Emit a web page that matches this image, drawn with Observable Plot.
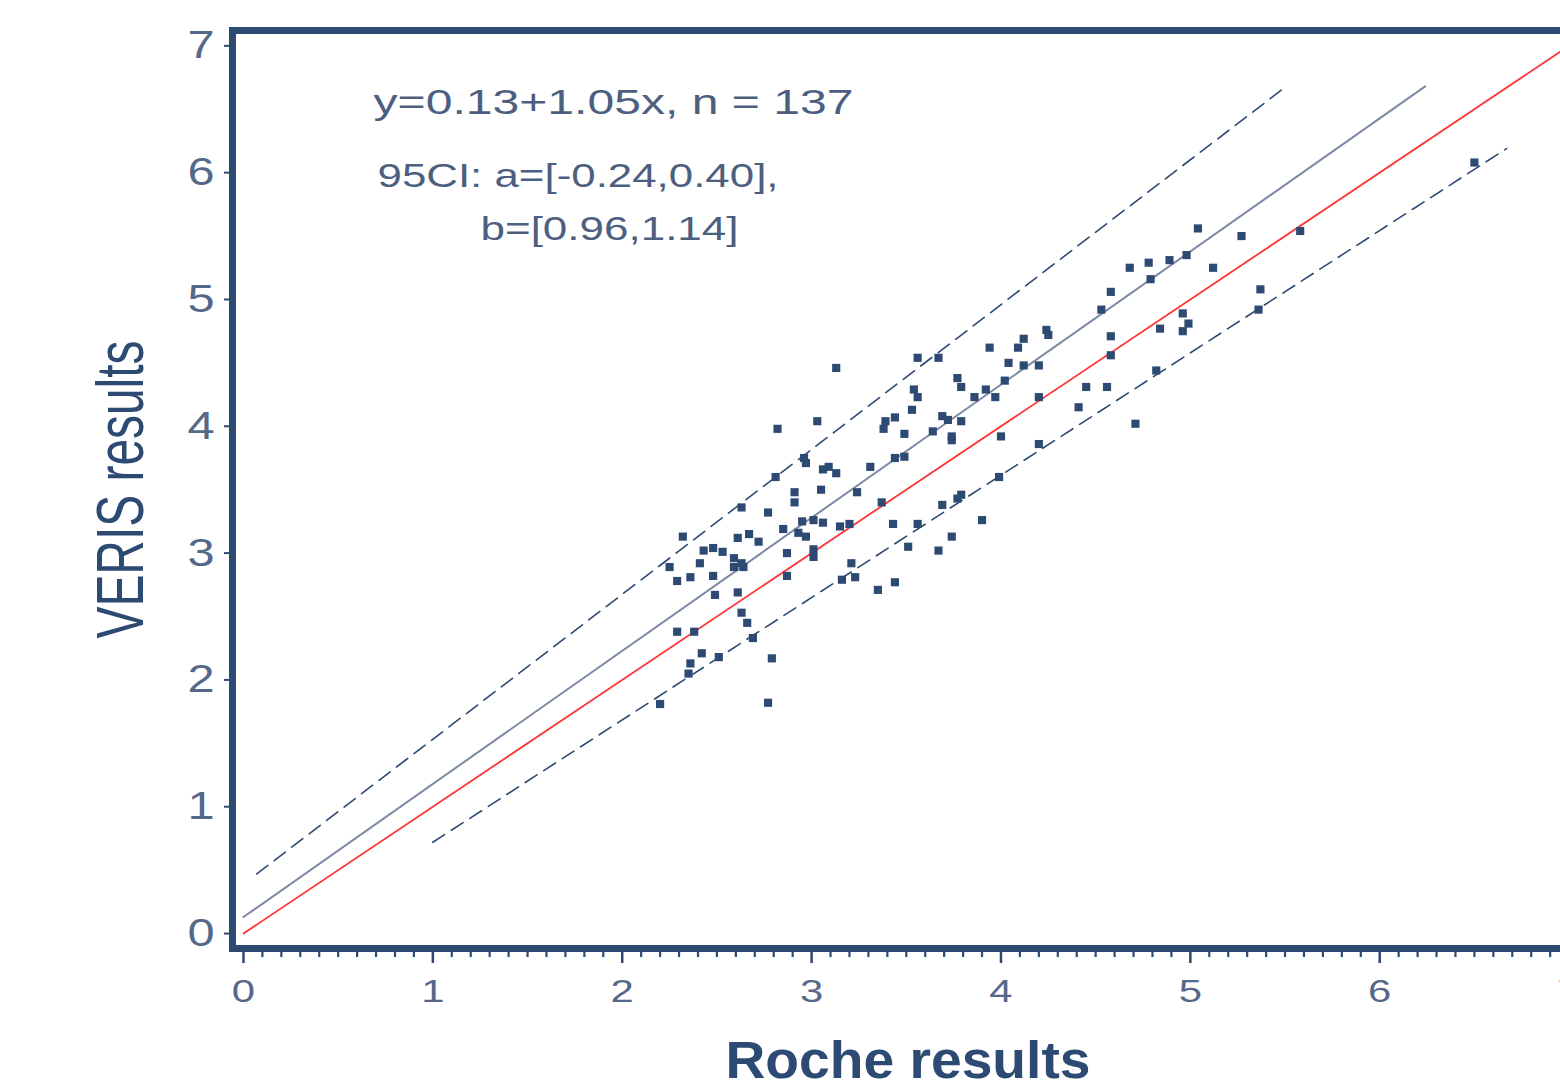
<!DOCTYPE html>
<html><head><meta charset="utf-8">
<script src="https://cdn.jsdelivr.net/npm/d3@7"></script>
<script src="https://cdn.jsdelivr.net/npm/@observablehq/plot@0.6"></script>
<style>
html,body{margin:0;padding:0;background:#fff;overflow:hidden;width:1560px;height:1087px;}
#chart svg{max-width:none !important;display:block;}
</style>
</head><body><div id="chart"></div>
<script>
// ---- data ----
const rocheX = [2.20,2.77,2.79,2.35,2.36,2.42,2.51,2.29,2.38,2.69,2.66,2.63,2.61,2.49,2.25,2.29,2.36,2.32,2.41,2.48,
  2.43,2.48,2.53,2.59,2.63,2.59,2.64,2.61,2.63,2.67,2.72,2.77,2.81,2.82,2.87,2.87,2.85,2.91,2.91,2.93,
  2.95,2.97,2.96,2.97,3.01,3.01,3.01,3.03,3.05,3.06,3.09,3.13,3.13,3.06,3.15,3.20,3.16,3.21,3.23,3.24,
  3.31,3.35,3.37,3.38,3.39,3.44,3.43,3.44,3.44,3.49,3.49,3.51,3.53,3.54,3.56,3.56,3.56,3.64,3.67,3.67,
  3.69,3.69,3.72,3.74,3.74,3.74,3.77,3.77,3.79,3.79,3.79,3.86,3.90,3.92,3.94,3.97,3.99,4.00,4.02,4.04,
  4.09,4.12,4.12,4.20,4.20,4.20,4.25,4.24,4.41,4.45,4.53,4.56,4.58,4.58,4.58,4.68,4.71,4.78,4.79,4.82,
  4.84,4.89,4.96,4.96,4.99,4.98,5.04,5.12,5.27,5.36,5.37,5.58,6.50];
const verisY = [1.81,1.82,2.17,2.05,2.13,2.21,2.18,2.38,2.38,2.33,2.45,2.53,2.69,2.67,2.89,2.78,2.81,3.13,2.92,2.82,
  3.02,3.04,3.01,2.96,2.92,2.89,2.89,3.12,3.36,3.15,3.09,3.32,3.60,3.98,2.82,3.00,3.19,3.48,3.40,3.16,
  3.25,3.13,3.75,3.71,3.03,2.97,3.26,4.04,3.50,3.66,3.68,3.63,4.46,3.24,3.21,3.23,2.79,2.92,2.81,3.48,
  3.68,2.71,3.40,3.98,4.04,4.07,3.23,2.77,3.75,3.76,3.94,3.05,4.13,4.29,4.23,4.54,3.23,3.96,4.54,3.02,
  4.08,3.38,4.05,3.92,3.89,3.13,4.38,3.43,4.31,3.46,4.04,4.23,3.26,4.29,4.62,4.23,3.60,3.92,4.36,4.50,
  4.62,4.69,4.48,4.48,4.23,3.86,4.72,4.76,4.15,4.31,4.92,4.31,4.56,4.71,5.06,5.25,4.02,5.29,5.16,4.44,
  4.77,5.31,4.89,4.75,4.81,5.35,5.56,5.25,5.50,4.92,5.08,5.54,6.08];

const identityX = [0, 7];        const identityY = [0, 7];
const regressionX = [0, 6.24];   const regressionY = [0.13, 6.68];
const upperX = [0.07, 5.48];     const upperY = [0.47, 6.65];
const lowerX = [1.00, 6.67];     const lowerY = [0.72, 6.19];

const xTicks = [0, 1, 2, 3, 4, 5, 6, 7];
const yTicks = [0, 1, 2, 3, 4, 5, 6, 7];
const xMinorTicks = d3.range(0, 72).map(i => i / 10).filter(v => Math.abs(v - Math.round(v)) > 1e-6);

const annotationLines = ["y=0.13+1.05x, n = 137", "95CI: a=[-0.24,0.40],", "b=[0.96,1.14]"];
const xTitle = ["Roche results"];
const yTitle = ["VERIS results"];

// ---- styles ----
const navy = "#2d4a72";
const tickText = "#556889";
const noteText = "#4c5f80";
const textLengths = {
  "y=0.13+1.05x, n = 137": 480,
  "95CI: a=[-0.24,0.40],": 401,
  "b=[0.96,1.14]": 258,
  "Roche results": 365,
  "VERIS results": 298
};

const seg = (xs, ys) => xs.map((x, i) => ({x, y: ys[i]}));

const chart = Plot.plot({
  width: 1620,
  height: 1087,
  marginLeft: 232,
  marginTop: 30,
  marginRight: 23,
  marginBottom: 139,
  style: {fontFamily: "'Liberation Sans', Arial, sans-serif", background: "#fff", maxWidth: "none", overflow: "visible"},
  x: {domain: [-0.058, 7.15]},
  y: {domain: [-0.118, 7.121]},
  marks: [
    Plot.line(seg(identityX, identityY), {x: "x", y: "y", stroke: "#ff3434", strokeWidth: 1.8}),
    Plot.line(seg(regressionX, regressionY), {x: "x", y: "y", stroke: "#7b89a4", strokeWidth: 2}),
    Plot.line(seg(upperX, upperY), {x: "x", y: "y", stroke: navy, strokeWidth: 1.6, strokeDasharray: "14,8"}),
    Plot.line(seg(lowerX, lowerY), {x: "x", y: "y", stroke: navy, strokeWidth: 1.6, strokeDasharray: "14,8"}),
    Plot.dot(rocheX, {x: rocheX, y: verisY, symbol: "square", r: 4.6, fill: navy, stroke: "none"}),
    Plot.axisX({ticks: xMinorTicks, tickSize: 9, tickFormat: () => "", stroke: navy, strokeWidth: 2.2, label: null}),
    Plot.axisX({ticks: xTicks, tickSize: 15, tickPadding: 16, fontSize: 31, stroke: navy, fill: tickText, strokeWidth: 2.5, label: null}),
    Plot.axisY({ticks: yTicks, tickSize: 8, tickPadding: 10, fontSize: 39, stroke: navy, fill: tickText, strokeWidth: 2, label: null}),
    Plot.text([annotationLines[0]], {text: d => d, frameAnchor: "top-left", dx: 141, dy: 83, lineAnchor: "bottom", textAnchor: "start", fontSize: 35, fill: noteText}),
    Plot.text([annotationLines[1]], {text: d => d, frameAnchor: "top-left", dx: 145, dy: 156, lineAnchor: "bottom", textAnchor: "start", fontSize: 34, fill: noteText}),
    Plot.text([annotationLines[2]], {text: d => d, frameAnchor: "top-left", dx: 248, dy: 209, lineAnchor: "bottom", textAnchor: "start", fontSize: 34, fill: noteText}),
    Plot.text(xTitle, {text: d => d, frameAnchor: "bottom", dx: -189.5, dy: 129, lineAnchor: "bottom", textAnchor: "start", fontSize: 51, fontWeight: "bold", fill: navy}),
    Plot.text(yTitle, {text: d => d, frameAnchor: "left", dx: -111, dy: 149, rotate: -90, lineAnchor: "middle", textAnchor: "start", fontSize: 66, fill: navy}),
    Plot.frame({stroke: navy, strokeWidth: 7})
  ]
});

document.getElementById("chart").appendChild(chart);
chart.style.maxWidth = "none";

// stretch tick labels horizontally like the reference
const stretch = (sel, sx) => chart.querySelectorAll(sel).forEach(t => {
  const tr = t.getAttribute("transform") || "";
  t.setAttribute("transform", tr + ` scale(${sx},1)`);
});
stretch('g[aria-label="y-axis tick label"] text', 1.25);
stretch('g[aria-label="x-axis tick label"] text', 1.35);

// fit text widths to the reference
chart.querySelectorAll("text").forEach(t => {
  const L = textLengths[t.textContent];
  if (L) { t.setAttribute("textLength", L); t.setAttribute("lengthAdjust", "spacingAndGlyphs"); }
});
</script>
</body></html>
